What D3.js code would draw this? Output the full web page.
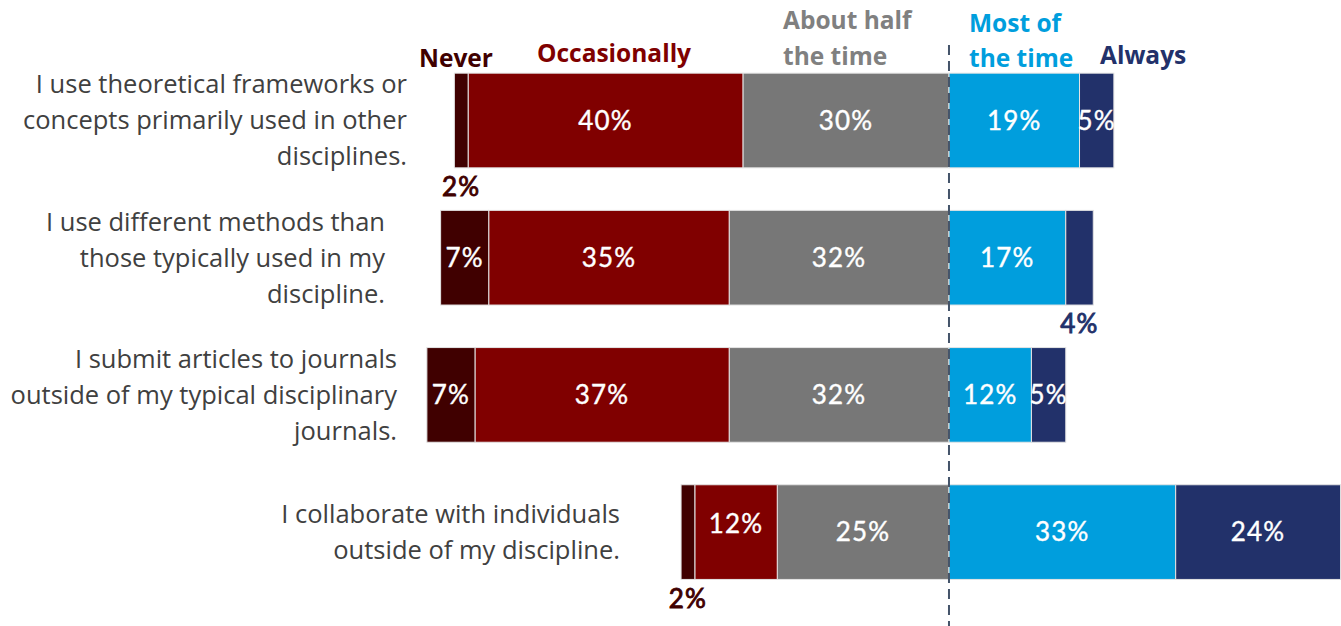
<!DOCTYPE html>
<html>
<head>
<meta charset="utf-8">
<script src="https://cdn.jsdelivr.net/npm/d3@7"></script>
<style>
  html, body { margin: 0; padding: 0; background: #fff; }
  svg { display: block; }
</style>
</head>
<body>
<svg id="chart" width="1341" height="626"></svg>
<script>
// Survey statements (one bar each), wrapped as drawn
const categories = [
  ["I use theoretical frameworks or", "concepts primarily used in other", "disciplines."],
  ["I use different methods than", "those typically used in my", "discipline."],
  ["I submit articles to journals", "outside of my typical disciplinary", "journals."],
  ["I collaborate with individuals", "outside of my discipline."]
];
const categoryKeys = ["frameworks", "methods", "journals", "collaborate"];

// Response frequencies, percent
const never        = [2, 7, 7, 2];
const occasionally = [40, 35, 37, 12];
const aboutHalf    = [30, 32, 32, 25];
const mostOfTime   = [19, 17, 12, 33];
const always       = [5, 4, 5, 24];

const seriesNames = ["Never", "Occasionally", "About half the time", "Most of the time", "Always"];
const seriesColors = ["#400000", "#800000", "#777777", "#009EDD", "#22316A"];
const headerColors = ["#400000", "#7F0000", "#808080", "#009EDD", "#22316A"];

const svg = d3.select("#chart");

// Diverging axis: negative side holds Never/Occasionally/About half, positive the rest
const x = d3.scaleLinear().domain([-70, 57.5]).range([468.1, 1344.0]);
const y = d3.scaleBand().domain(categoryKeys).range([51.9, 600.7]).paddingInner(0.31).paddingOuter(0.155);

// Build segment list with start/end for each row
const segments = [];
categoryKeys.forEach((key, i) => {
  // left side: stacked outward from 0
  const half = aboutHalf[i], occ = occasionally[i], nev = never[i];
  segments.push({ key, s: 2, x0: -half, x1: 0, v: half });
  segments.push({ key, s: 1, x0: -half - occ, x1: -half, v: occ });
  segments.push({ key, s: 0, x0: -half - occ - nev, x1: -half - occ, v: nev });
  // right side
  const most = mostOfTime[i], alw = always[i];
  segments.push({ key, s: 3, x0: 0, x1: most, v: most });
  segments.push({ key, s: 4, x0: most, x1: most + alw, v: alw });
});

svg.append("g").selectAll("rect")
  .data(segments)
  .join("rect")
  .attr("x", d => x(d.x0))
  .attr("width", d => x(d.x1) - x(d.x0))
  .attr("y", d => y(d.key))
  .attr("height", y.bandwidth())
  .attr("fill", d => seriesColors[d.s])
  .attr("stroke", "#e4e4e4")
  .attr("stroke-width", 1);

// Value labels; small segments get their label outside the bar
const outsideBelow = new Set(["frameworks-0", "methods-4", "collaborate-0"]);
const isOutside = d => outsideBelow.has(d.key + "-" + d.s);
const labelColor = d => isOutside(d) ? seriesColors[d.s] : "#ffffff";
svg.append("g").selectAll("text")
  .data(segments)
  .join("text")
  .attr("x", d => (x(d.x0) + x(d.x1)) / 2)
  .attr("y", d => {
    const cy = y(d.key) + y.bandwidth() / 2;
    if (isOutside(d)) return y(d.key) + y.bandwidth() + 19;
    if (d.key === "collaborate" && d.s === 1) return cy - 8;
    return cy;
  })
  .attr("dy", "0.35em")
  .attr("text-anchor", "middle")
  .attr("font-family", "Lato, 'Open Sans', sans-serif")
  .attr("font-size", 26)
  .attr("letter-spacing", 1.2)
  .attr("fill", labelColor)
  .attr("stroke", labelColor)
  .attr("stroke-width", d => isOutside(d) ? 0.9 : 0.4)
  .text(d => d.v + "%");

// Category labels, right-aligned per row
const labelRight = [407, 385, 397, 620];
const labelG = svg.append("g")
  .attr("font-family", "'Open Sans', 'Noto Sans', sans-serif")
  .attr("font-size", 25.5)
  .attr("fill", "#404040");
categories.forEach((lines, i) => {
  const cy = y(categoryKeys[i]) + y.bandwidth() / 2;
  const lh = 36;
  const top = cy - (lines.length - 1) * lh / 2;
  const t = labelG.append("text").attr("text-anchor", "end");
  lines.forEach((ln, j) => {
    t.append("tspan")
      .attr("x", labelRight[i])
      .attr("y", top + j * lh)
      .attr("dy", "0.35em")
      .text(ln);
  });
});

// Series headers above the first bar
const headers = [
  { s: 0, lines: ["Never"], x: 456, anchor: "middle", y: [58] },
  { s: 1, lines: ["Occasionally"], x: 614, anchor: "middle", y: [53] },
  { s: 2, lines: ["About half", "the time"], x: 783, anchor: "start", y: [20, 56] },
  { s: 3, lines: ["Most of", "the time"], x: 969, anchor: "start", y: [23, 58] },
  { s: 4, lines: ["Always"], x: 1100, anchor: "start", y: [55] }
];
const headG = svg.append("g")
  .attr("font-family", "'Open Sans', 'Noto Sans', sans-serif")
  .attr("font-size", 24.5)
  .attr("font-weight", 700);
headers.forEach(h => {
  const t = headG.append("text")
    .attr("text-anchor", h.anchor)
    .attr("fill", headerColors[h.s]);
  h.lines.forEach((ln, j) => {
    t.append("tspan").attr("x", h.x).attr("y", h.y[j]).attr("dy", "0.35em").text(ln);
  });
});

// Dashed zero line
svg.append("line")
  .attr("x1", x(0)).attr("x2", x(0))
  .attr("y1", 45).attr("y2", 626)
  .attr("stroke", "#44546A")
  .attr("stroke-width", 2)
  .attr("stroke-dasharray", "10,6");
</script>
</body>
</html>
